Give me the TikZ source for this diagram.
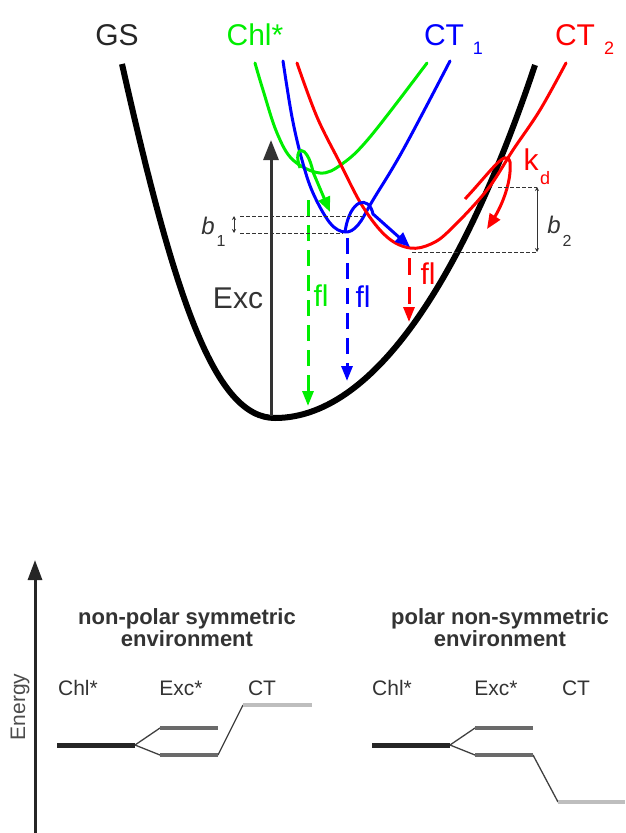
\documentclass[tikz,border=0pt]{standalone}
\usepackage{fontspec}
\setmainfont{Liberation Sans}
\usetikzlibrary{arrows.meta, positioning, calc}
\definecolor{chl}   {HTML}{00EE00}
\definecolor{ctone} {HTML}{0000FF}
\definecolor{cttwo} {HTML}{FF0000}
\definecolor{ink}   {HTML}{333333}
\definecolor{exclev}{HTML}{6A6A6A}
\definecolor{ctlev} {HTML}{BEBEBE}

\begin{document}
\begin{tikzpicture}[x=1pt, y=-1pt,
  % pixel grid of the figure, y running down
  well/.style={line width=3pt, line join=round, line cap=round},
  gs/.style={line width=6pt, line join=round},
  lbl/.style={font=\fontsize{30}{30}\selectfont, inner sep=0pt},
  sub/.style={font=\fontsize{18}{18}\selectfont, inner sep=0pt},
  blbl/.style={font=\fontsize{24}{24}\selectfont\itshape, inner sep=0pt, text=ink},
  bsub/.style={font=\fontsize{16}{16}\selectfont, inner sep=0pt, text=ink},
  hop/.style={line width=3pt, -{Triangle[length=15pt, width=12pt]}},
  flarr/.style={line width=3pt, dash pattern=on 16pt off 9pt,
                -{Triangle[length=15pt, width=11pt]}},
  gap/.style={line width=1pt, ink, dash pattern=on 4pt off 2pt},
  barrier/.style={line width=1pt, ink, {Stealth[length=4pt, width=4pt]}-{Stealth[length=4pt, width=4pt]}},
  % lower panel
  small/.style={font=\fontsize{21}{21}\selectfont, inner sep=0pt, text=ink},
  title/.style={font=\fontsize{22}{22}\selectfont\bfseries, inner sep=0pt,
                text=ink, align=center},
  chllev/.style={line width=5pt, black!85},
  exlev/.style={line width=4pt, exclev},
  ctl/.style={line width=4pt, ctlev},
  link/.style={line width=1.3pt, black!75}
]
\useasboundingbox (0,0) rectangle (625,833);

% potential wells
\coordinate (gsmin) at (275,418);
\draw[gs] (122,64) .. controls (175,300) and (215,418) .. (gsmin)
  .. controls (380,418) and (470,260) .. (535,65);
\draw[well, chl] plot[smooth, tension=0.6] coordinates {(255,63) (263,90) (277,133)
  (293,160) (320,173) (342,164) (370,137) (427,63)};
\draw[well, ctone] plot[smooth, tension=0.6] coordinates {(283,61) (292,117) (302,160)
  (313,193) (330,223) (345,232) (358,225) (373,200) (403,150) (450,61)};
\draw[well, cttwo] plot[smooth, tension=0.6] coordinates {(297,63) (317,117) (340,163)
  (363,207) (387,237) (410,248) (431,244) (450,230) (487,190) (513,150) (540,110) (566,63)};

\node[lbl, text=black!85] (gsl)  at (117,35) {GS};
\node[lbl, text=chl]      (chll) at (255,35) {Chl*};
\node[lbl, text=ctone]    (ct1l) at (444,35) {CT};
\node[sub, text=ctone]    (ct1s) at (478,48) {1};
\node[lbl, text=cttwo]    (ct2l) at (575,35) {CT};
\node[sub, text=cttwo]    (ct2s) at (609,48) {2};

% excitation
\coordinate (excbot) at (271,416);
\coordinate (exctop) at (271,140);
\draw[line width=3pt, ink, -{Triangle[length=20pt, width=15pt]}] (excbot) -- (exctop);
\node[lbl, text=ink] (excl) at (238,298) {Exc};

% transfers between wells
\coordinate (gstart) at (300,168);
\coordinate (gend)   at (330,212);
\draw[hop, chl] (gstart) .. controls (292,146) and (307,142) .. (313,172) -- (gend);
\coordinate (bstart) at (345,232);
\coordinate (bend)   at (410,247);
\draw[hop, ctone] (bstart) .. controls (350,198) and (369,195) .. (373,214) -- (bend);
\coordinate (rstart) at (465,199);
\coordinate (rend)   at (487,229);
\draw[hop, cttwo] (rstart) .. controls (492,170) and (506,148) .. (510,162)
  .. controls (512,182) and (501,207) .. (rend);
\node[lbl, text=cttwo] (kdl) at (531,160) {k};
\node[sub, text=cttwo] (kds) at (545,178) {d};

% fluorescence
\coordinate (gfl1) at (308,200);
\coordinate (gfl2) at (308,406);
\draw[flarr, chl] (gfl1) -- (gfl2);
\node[lbl, text=chl] (gfll) at (321,296) {fl};
\coordinate (bfl1) at (347,238);
\coordinate (bfl2) at (347,381);
\draw[flarr, ctone] (bfl1) -- (bfl2);
\node[lbl, text=ctone] (bfll) at (363,297) {fl};
\coordinate (rfl1) at (409,258);
\coordinate (rfl2) at (409,322);
\draw[flarr, cttwo, dash pattern=on 17pt off 12pt] (rfl1) -- (rfl2);
\node[lbl, text=cttwo] (rfll) at (428,274) {fl};

% barriers
\coordinate (b1up)  at (240,216);
\coordinate (b1upr) at (363,216);
\coordinate (b1lo)  at (240,233);
\coordinate (b1lor) at (343,233);
\draw[gap] (b1up) -- (b1upr);
\draw[gap] (b1lo) -- (b1lor);
\draw[barrier] (234,216) -- (234,233);
\node[blbl] (b1l) at (208,226) {b};
\node[bsub] (b1s) at (221,241) {1};
\coordinate (b2up)  at (498,187);
\coordinate (b2upr) at (537,187);
\coordinate (b2lo)  at (412,252);
\coordinate (b2lor) at (537,252);
\draw[gap] (b2up) -- (b2upr);
\draw[gap] (b2lo) -- (b2lor);
\draw[barrier] (b2upr) -- (b2lor);
\node[blbl] (b2l) at (554,225) {b};
\node[bsub] (b2s) at (567,241) {2};

% energy level schemes
\coordinate (ebot) at (35,833);
\coordinate (etop) at (35,560);
\draw[line width=3pt, black!85, -{Triangle[length=20pt, width=14pt]}] (ebot) -- (etop);
\node[small, rotate=90, text=black!70] (enl) at (20,707) {Energy};

\node[title] (t1) at (187,628) {non-polar symmetric\\environment};
\node[title] (t2) at (500,628) {polar non-symmetric\\environment};

\node[small] (chla) at (78,688)  {Chl*};
\node[small] (exca) at (181,688) {Exc*};
\node[small] (cta)  at (262,688) {CT};
\node[small] (chlb) at (392,688) {Chl*};
\node[small] (excb) at (496,688) {Exc*};
\node[small] (ctb)  at (576,688) {CT};

% left: CT above the exciton pair
\coordinate (a0) at (57,745);  \coordinate (a1) at (135,745);
\coordinate (a2) at (160,728); \coordinate (a3) at (218,728);
\coordinate (a4) at (160,755); \coordinate (a5) at (218,755);
\coordinate (a6) at (243,705); \coordinate (a7) at (312,705);
\draw[link] (a1) -- (a2);
\draw[link] (a1) -- (a4);
\draw[link] (a5) -- (a6);
\draw[chllev] (a0) -- (a1);
\draw[exlev] (a2) -- (a3);
\draw[exlev] (a4) -- (a5);
\draw[ctl] (a6) -- (a7);

% right: CT below the exciton pair
\coordinate (c0) at (372,745); \coordinate (c1) at (450,745);
\coordinate (c2) at (475,728); \coordinate (c3) at (533,728);
\coordinate (c4) at (475,755); \coordinate (c5) at (533,755);
\coordinate (c6) at (558,802); \coordinate (c7) at (625,802);
\draw[link] (c1) -- (c2);
\draw[link] (c1) -- (c4);
\draw[link] (c5) -- (c6);
\draw[chllev] (c0) -- (c1);
\draw[exlev] (c2) -- (c3);
\draw[exlev] (c4) -- (c5);
\draw[ctl] (c6) -- (c7);

\end{tikzpicture}
\end{document}
